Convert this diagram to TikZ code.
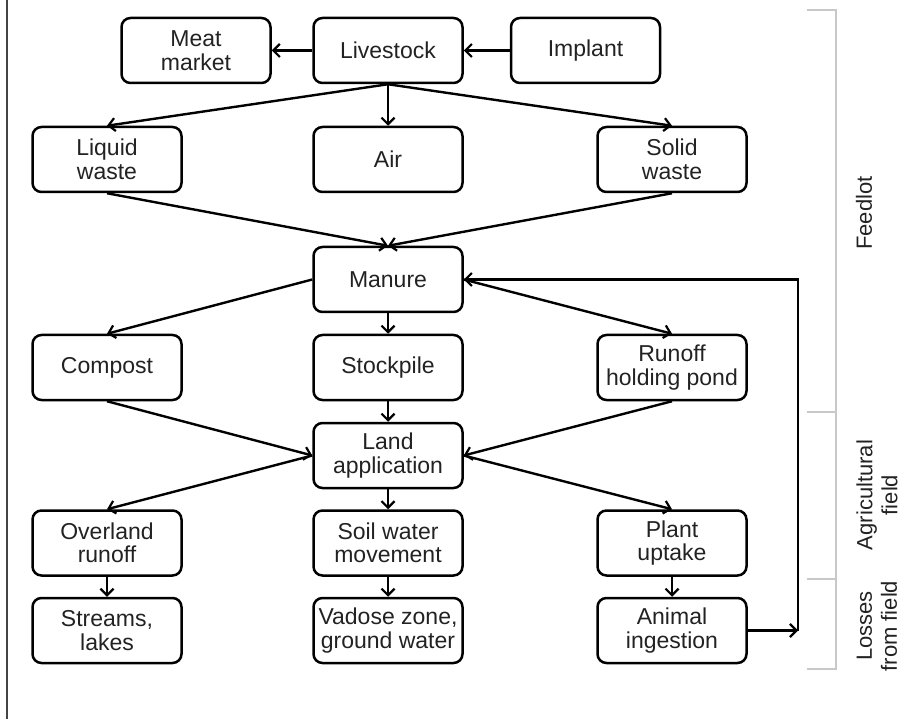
\documentclass[tikz,border=0pt]{standalone}
\usepackage{fontspec}
\setmainfont{Liberation Sans}
\usetikzlibrary{arrows.meta}
\definecolor{txt}{HTML}{222222}
\definecolor{brk}{HTML}{C8C8C8}
\definecolor{side}{HTML}{444444}
\begin{document}
\begin{tikzpicture}[x=1pt,y=-1pt,
  box/.style={draw=black, line width=2.5pt, rounded corners=9pt,
    minimum width=149pt, minimum height=65pt, inner sep=0pt,
    align=center, text=txt, font=\fontsize{23}{23.5}\selectfont},
  conn/.style={line width=2.4pt, -{Straight Barb[length=6.5pt,width=13pt,line width=2.2pt]}},
  lbl/.style={rotate=90, align=center, text=txt, font=\fontsize{22}{25}\selectfont},
  brace/.style={draw=brk, line width=1.6pt}]
\useasboundingbox (0,0) rectangle (913,719);
\draw[side, line width=1.4pt] (7,0) -- (7,719);
% nodes
\node[box] (meat)  at (196,50.5)   {Meat\\market};
\node[box] (live)  at (388,50.5)   {Livestock};
\node[box] (impl)  at (585.5,50.5) {Implant};
\node[box] (liq)   at (107,159.5)  {Liquid\\waste};
\node[box] (air)   at (388,159.5)  {Air};
\node[box] (sol)   at (672,159.5)  {Solid\\waste};
\node[box] (man)   at (388,279.5)  {Manure};
\node[box] (comp)  at (107,367.5)  {Compost};
\node[box] (stock) at (388,367.5)  {Stockpile};
\node[box] (pond)  at (672,367.5)  {Runoff\\holding pond};
\node[box] (land)  at (388,455.5)  {Land\\application};
\node[box] (over)  at (107,543)    {Overland\\runoff};
\node[box] (soil)  at (388,543)    {Soil water\\movement};
\node[box] (plant) at (672,543)    {Plant\\uptake};
\node[box] (str)   at (107,630.5)  {Streams,\\lakes};
\node[box] (vad)   at (388,630.5)  {Vadose zone,\\ground water};
\node[box] (anim)  at (672,630.5)  {Animal\\ingestion};
\coordinate (fb) at (798,630.5);
\coordinate (fbtop) at (798,279.5);
% connectors
\draw[conn] (live.west) -- (meat.east);
\draw[conn] (impl.west) -- (live.east);
\draw[conn] (live.south) -- (liq.north);
\draw[conn] (live.south) -- (air.north);
\draw[conn] (live.south) -- (sol.north);
\draw[conn] (liq.south) -- (man.north);
\draw[conn] (sol.south) -- (man.north);
\draw[conn] (man.west) -- (comp.north);
\draw[conn] (man.south) -- (stock.north);
\draw[conn] (man.east) -- (pond.north);
\draw[conn] (comp.south) -- (land.west);
\draw[conn] (stock.south) -- (land.north);
\draw[conn] (pond.south) -- (land.east);
\draw[conn] (land.west) -- (over.north);
\draw[conn] (land.south) -- (soil.north);
\draw[conn] (land.east) -- (plant.north);
\draw[conn] (over.south) -- (str.north);
\draw[conn] (soil.south) -- (vad.north);
\draw[conn] (plant.south) -- (anim.north);
\draw[conn] (anim.east) -- (fb);
\draw[conn] (fb) -- (fbtop) -- (man.east);
% bracket
\draw[brace] (807,10) -- (836,10) -- (836,669) -- (807,669);
\draw[brace] (807,412) -- (836,412);
\draw[brace] (807,579) -- (836,579);
\node[lbl] (feed) at (864,213) {Feedlot};
\node[lbl] (agri) at (877,495) {Agricultural\\field};
\node[lbl] (loss) at (877,626) {Losses\\from field};
\end{tikzpicture}
\end{document}
